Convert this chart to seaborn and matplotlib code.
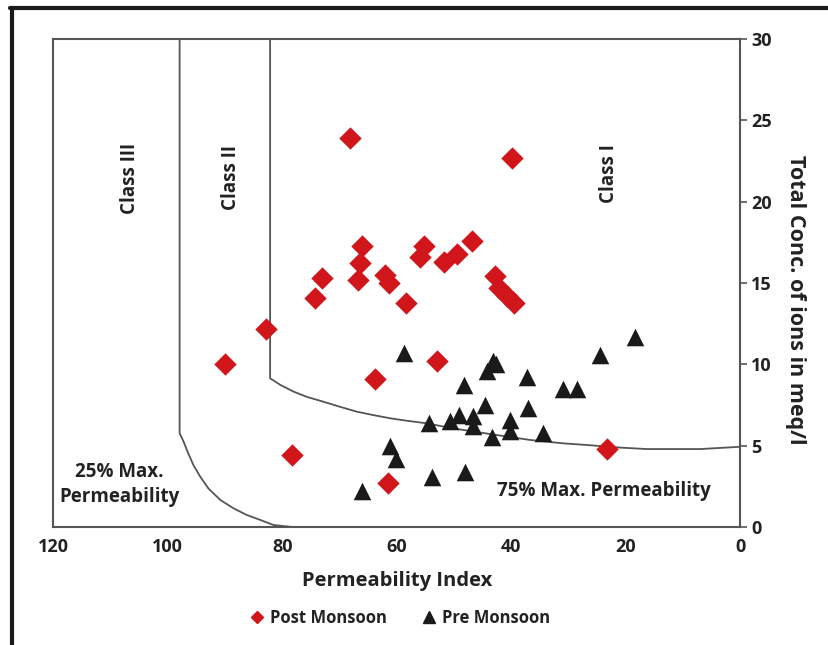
import matplotlib
matplotlib.use("Agg")
import matplotlib.pyplot as plt
import seaborn as sns
import pandas as pd
from matplotlib.lines import Line2D

# ---- data ----
post_pi = [68.1, 39.8, 66.1, 66.4, 66.8, 73.0, 74.2, 62.0, 61.4, 58.4, 55.3, 56.0,
           51.8, 49.5, 46.9, 42.8, 42.2, 40.8, 39.6, 82.8, 90.0, 63.8, 53.0, 78.2,
           61.6, 23.3]
post_tc = [23.9, 22.7, 17.3, 16.2, 15.2, 15.3, 14.1, 15.5, 15.0, 13.8, 17.3, 16.6,
           16.3, 16.8, 17.6, 15.4, 14.7, 14.2, 13.8, 12.2, 10.0, 9.1, 10.2, 4.4,
           2.7, 4.8]
pre_pi = [58.7, 43.1, 44.2, 37.3, 48.3, 30.9, 28.5, 24.5, 18.3, 44.5, 37.1, 54.4,
          50.7, 49.2, 46.6, 46.6, 40.2, 40.2, 43.4, 34.5, 61.2, 60.2, 53.9, 48.1,
          66.0, 42.6]
pre_tc = [10.7, 10.2, 9.6, 9.2, 8.7, 8.5, 8.5, 10.6, 11.7, 7.5, 7.3, 6.4,
          6.5, 6.9, 6.8, 6.2, 6.6, 5.9, 5.55, 5.75, 5.0, 4.2, 3.1, 3.4,
          2.2, 10.0]

# class boundary curves
c1_pi = [82.1, 82.1, 80.3, 78.0, 75.7, 72.8, 69.9, 67.0, 64.1, 61.1, 58.2, 54.7,
         51.5, 48.3, 42.5, 36.7, 30.9, 26.8, 21.0, 16.3, 7.0, 0.0]
c1_tc = [30.0, 9.14, 8.73, 8.32, 8.0, 7.70, 7.39, 7.09, 6.88, 6.68, 6.53, 6.37,
         6.15, 5.96, 5.65, 5.35, 5.14, 5.04, 4.88, 4.79, 4.79, 4.93]
c2_pi = [97.9, 97.9, 97.2, 96.4, 95.5, 94.3, 92.9, 90.8, 88.5, 86.2, 83.8, 81.5, 78.3]
c2_tc = [30.0, 5.76, 5.24, 4.53, 3.81, 3.09, 2.38, 1.66, 1.15, 0.74, 0.43, 0.12, 0.0]

x_ticks = [120, 100, 80, 60, 40, 20, 0]
y_ticks = [0, 5, 10, 15, 20, 25, 30]

post_df = pd.DataFrame({"PI": post_pi, "TC": post_tc})
pre_df = pd.DataFrame({"PI": pre_pi, "TC": pre_tc})

sns.set_style("white")
plt.rcParams["font.family"] = ["Open Sans", "DejaVu Sans"]
plt.rcParams["font.weight"] = "bold"

fig = plt.figure(figsize=(8.29, 6.45), dpi=100)
ax = fig.add_axes([0.064, 0.183, 0.829, 0.7565])

spine_c = "#555555"
ax.plot(c1_pi, c1_tc, color=spine_c, lw=1.3, zorder=1, solid_joinstyle="round")
ax.plot(c2_pi, c2_tc, color=spine_c, lw=1.3, zorder=1, solid_joinstyle="round")

red = "#D0161B"
blk = "#1a1a1a"
sns.scatterplot(data=post_df, x="PI", y="TC", color=red, marker="D",
                s=130, linewidth=0, ax=ax, legend=False, zorder=3)
sns.scatterplot(data=pre_df, x="PI", y="TC", color=blk, marker="^",
                s=160, linewidth=0, ax=ax, legend=False, zorder=3)

ax.set_xlim(120, 0)
ax.set_ylim(0, 30)
ax.set_xticks(x_ticks)
ax.set_yticks(y_ticks)
ax.yaxis.tick_right()
ax.yaxis.set_label_position("right")
ax.tick_params(axis="both", direction="out", length=5, width=1.2, color=spine_c,
               labelsize=13, labelcolor="#222222")
ax.tick_params(axis="x", pad=3)
ax.tick_params(axis="y", pad=3)
for lab in ax.get_xticklabels() + ax.get_yticklabels():
    lab.set_fontweight("bold")
for sp in ax.spines.values():
    sp.set_color(spine_c)
    sp.set_linewidth(1.5)
    sp.set_visible(True)

ax.set_xlabel("Permeability Index", fontsize=14.5, fontweight="bold", color="#222222",
              labelpad=11)
ax.set_ylabel("Total Conc. of ions in meq/l", fontsize=15.5, fontweight="bold",
              color="#222222", rotation=-90)
ax.yaxis.set_label_coords(1.095, 0.465)

tkw = dict(fontsize=13.5, fontweight="bold", color="#222222")
ax.text(106.5, 21.4, "Class III", rotation=90, ha="center", va="center", **tkw)
ax.text(89.0, 21.5, "Class II", rotation=90, ha="center", va="center", **tkw)
ax.text(22.9, 21.7, "Class I", rotation=90, ha="center", va="center", **tkw)
ax.text(108.4, 2.6, "25% Max.\nPermeability", ha="center", va="center",
        linespacing=1.35, **tkw)
ax.text(23.9, 2.2, "75% Max. Permeability", ha="center", va="center", **tkw)

handles = [
    Line2D([], [], marker="D", ls="", color=red, markersize=6.5),
    Line2D([], [], marker="^", ls="", color=blk, markersize=9),
]
leg = fig.legend(handles, ["Post Monsoon", "Pre Monsoon"], loc="center",
                 bbox_to_anchor=(0.482, 0.042), ncol=2, frameon=False,
                 handletextpad=0.3, columnspacing=2.0, handlelength=1.0,
                 prop={"size": 12, "weight": "bold"})
for t in leg.get_texts():
    t.set_color("#222222")

# outer frame (left and top)
fig.add_artist(Line2D([0.0145, 0.0145], [0.0, 0.988], transform=fig.transFigure,
                      color="#1a1a1a", lw=3))
fig.add_artist(Line2D([0.0125, 1.0], [0.988, 0.988], transform=fig.transFigure,
                      color="#1a1a1a", lw=3))

fig.savefig("out.png", dpi=100)
